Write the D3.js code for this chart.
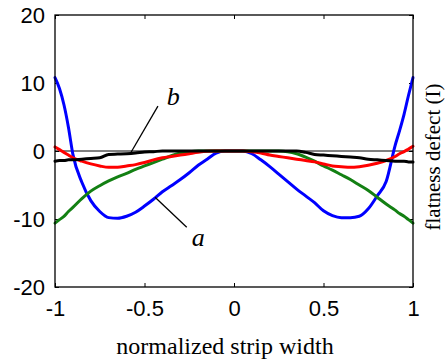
<!DOCTYPE html>
<html>
<head>
<meta charset="utf-8">
<script src="https://cdn.jsdelivr.net/npm/d3@7"></script>
<style>
  body { margin: 0; background: #fff; }
  svg { display: block; }
</style>
</head>
<body>
<div id="chart"></div>
<script>
// sample positions across the strip
var xs = [-1, -0.975, -0.95, -0.925, -0.9, -0.85, -0.8, -0.75, -0.7, -0.65, -0.6, -0.55, -0.5, -0.45, -0.4, -0.35, -0.3, -0.25, -0.2, -0.15, -0.1, -0.05,
  0, 0.05, 0.1, 0.15, 0.2, 0.25, 0.3, 0.35, 0.4, 0.45, 0.5, 0.55, 0.6, 0.65, 0.7, 0.75, 0.8, 0.85, 0.9, 0.925, 0.95, 0.975, 1];

var blueVals = [10.8, 9.2, 6.8, 3.5, -0.5, -4.6, -7.3, -8.9, -9.8, -9.9, -9.6, -9.0, -8.1, -7.1, -6.0, -5.1, -4.2, -3.2, -2.1, -1.2, -0.3, 0,
  0, 0, -0.4, -1.3, -2.3, -3.4, -4.5, -5.6, -6.6, -7.6, -8.8, -9.5, -9.8, -9.8, -9.6, -8.5, -6.6, -4.5, 0.8, 3.0, 5.4, 8.2, 10.8];

var greenVals = [-10.6, -10.1, -9.6, -8.9, -8.3, -7.0, -5.9, -5.1, -4.4, -3.8, -3.3, -2.7, -2.2, -1.7, -1.2, -0.7, -0.3, -0.1, 0, 0, 0, 0,
  0, 0, 0, 0, 0, 0, -0.1, -0.4, -0.9, -1.5, -2.2, -2.8, -3.5, -4.2, -5.0, -5.8, -6.8, -7.8, -8.7, -9.2, -9.6, -10.1, -10.6];

var redVals = [0.6, 0.2, -0.2, -0.6, -1.0, -1.5, -1.9, -2.2, -2.4, -2.4, -2.2, -2.0, -1.7, -1.3, -1.0, -0.8, -0.6, -0.4, -0.2, -0.05, 0, 0,
  0, 0, -0.1, -0.3, -0.6, -0.8, -1.0, -1.2, -1.4, -1.6, -1.9, -2.2, -2.3, -2.4, -2.3, -2.1, -1.8, -1.4, -0.8, -0.4, -0.1, 0.3, 0.7];

var blackVals = [-1.5, -1.4, -1.4, -1.3, -1.3, -1.2, -1.1, -1.0, -0.5, -0.45, -0.4, -0.3, -0.15, -0.1, 0, 0, 0, 0, 0, 0, 0, 0,
  0, 0, 0, 0, 0, 0, 0, 0, -0.2, -0.5, -0.6, -0.7, -0.8, -0.9, -1.0, -1.2, -1.3, -1.4, -1.5, -1.5, -1.5, -1.6, -1.6];

var xTicks = [-1, -0.5, 0, 0.5, 1];
var xTickLabels = ["-1", "-0.5", "0", "0.5", "1"];
var yTicks = [-20, -10, 0, 10, 20];
var yTickLabels = ["-20", "-10", "0", "10", "20"];

// annotation labels with leader lines: [x1, y1, x2, y2] in data units
var annoNames = ["b", "a"];
var annoLeaders = [[-0.58, -0.4, -0.425, 6.6], [-0.441, -6.8, -0.264, -11.2]];
var annoText = [[-0.376, 6.7], [-0.236, -14.0]];

var width = 445, height = 362;
var margin = {top: 15, right: 32, bottom: 75, left: 55};
var sans = "'Liberation Sans', Arial, sans-serif";
var serif = "'Liberation Serif', 'Times New Roman', 'DejaVu Serif', serif";

var svg = d3.select('#chart').append('svg')
  .attr('width', width)
  .attr('height', height);

var x = d3.scaleLinear()
  .domain([-1, 1])
  .range([margin.left, width - margin.right]);

var y = d3.scaleLinear()
  .domain([-20, 20])
  .range([height - margin.bottom, margin.top]);

var tickLen = 4;

var xAxis = g => g
  .attr('transform', `translate(0,${height - margin.bottom})`)
  .call(d3.axisBottom(x).tickValues(xTicks).tickFormat((d, i) => xTickLabels[i])
    .tickSizeInner(-tickLen).tickSizeOuter(0).tickPadding(13));

var xAxisTop = g => g
  .attr('transform', `translate(0,${margin.top})`)
  .call(d3.axisTop(x).tickValues(xTicks).tickFormat('')
    .tickSizeInner(-tickLen).tickSizeOuter(0));

var yAxis = g => g
  .attr('transform', `translate(${margin.left},0)`)
  .call(d3.axisLeft(y).tickValues(yTicks).tickFormat((d, i) => yTickLabels[i])
    .tickSizeInner(-tickLen).tickSizeOuter(0).tickPadding(10));

var yAxisRight = g => g
  .attr('transform', `translate(${width - margin.right},0)`)
  .call(d3.axisRight(y).tickValues(yTicks).tickFormat('')
    .tickSizeInner(-tickLen).tickSizeOuter(0));

[xAxis, xAxisTop, yAxis, yAxisRight].forEach(function(ax) {
  var g = svg.append('g').call(ax);
  g.select('.domain').remove();
  g.selectAll('.tick line').attr('stroke', '#000').attr('stroke-width', 1);
  g.selectAll('.tick text')
    .attr('fill', '#000')
    .attr('font-family', sans)
    .attr('font-size', 22);
});

// zero reference line
svg.append('line')
  .attr('x1', x(-1)).attr('x2', x(1))
  .attr('y1', y(0)).attr('y2', y(0))
  .attr('stroke', '#000')
  .attr('stroke-width', 1);

var line = d3.line()
  .x((d, i) => x(xs[i]))
  .y(d => y(d))
  .curve(d3.curveMonotoneX);

var series = [
  {vals: blueVals, color: '#0000ff'},
  {vals: greenVals, color: '#138013'},
  {vals: redVals, color: '#ff0000'},
  {vals: blackVals, color: '#000000'}
];

const chartgroup = svg.append('g')
  .attr('fill', 'none')
  .attr('stroke-linejoin', 'round')
  .attr('stroke-linecap', 'round');

series.forEach(function(s) {
  chartgroup.append('path')
    .datum(s.vals)
    .attr('stroke', s.color)
    .attr('stroke-width', 3)
    .attr('d', line);
});

// frame
svg.append('rect')
  .attr('x', x(-1))
  .attr('y', y(20))
  .attr('width', x(1) - x(-1))
  .attr('height', y(-20) - y(20))
  .attr('fill', 'none')
  .attr('stroke', '#000')
  .attr('stroke-width', 1.3);

// annotations
annoNames.forEach(function(name, i) {
  var l = annoLeaders[i];
  svg.append('line')
    .attr('x1', x(l[0])).attr('y1', y(l[1]))
    .attr('x2', x(l[2])).attr('y2', y(l[3]))
    .attr('stroke', '#000')
    .attr('stroke-width', 1.3);
  svg.append('text')
    .attr('x', x(annoText[i][0]))
    .attr('y', y(annoText[i][1]))
    .attr('font-family', serif)
    .attr('font-style', 'italic')
    .attr('font-size', 26)
    .text(name);
});

// axis titles
svg.append('text')
  .attr('x', 225)
  .attr('y', 354)
  .attr('text-anchor', 'middle')
  .attr('font-family', serif)
  .attr('font-size', 24)
  .text('normalized strip width');

svg.append('text')
  .attr('transform', 'translate(440,157) rotate(-90)')
  .attr('text-anchor', 'middle')
  .attr('font-family', serif)
  .attr('font-size', 21)
  .text('flatness defect (I)');
</script>
</body>
</html>
